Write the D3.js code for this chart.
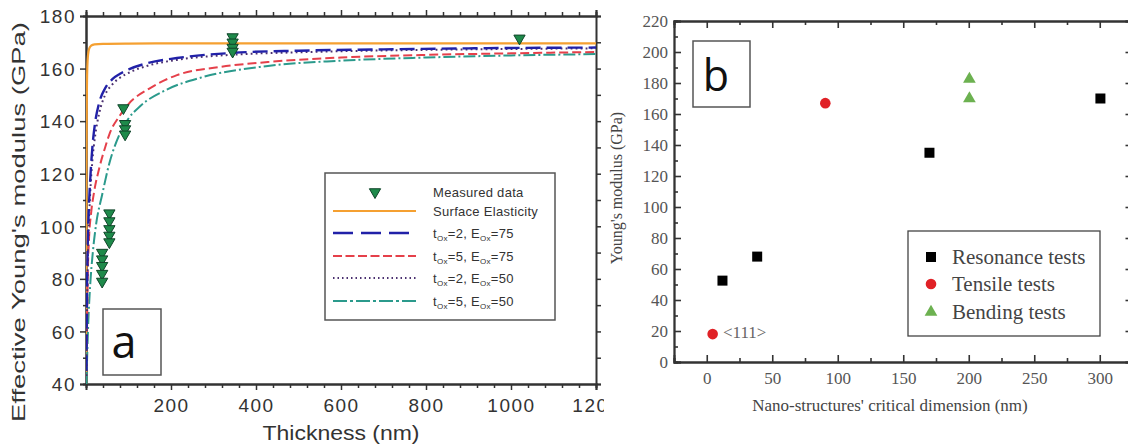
<!DOCTYPE html>
<html><head><meta charset="utf-8">
<script src="https://cdn.jsdelivr.net/npm/d3@7"></script>
<style>html,body{margin:0;padding:0;background:#fff;}svg{display:block;}</style>
</head><body>
<svg id="c" width="1128" height="446"></svg>
<script>
// ---------- Panel a data ----------
const yTicksA = [40, 60, 80, 100, 120, 140, 160, 180];
const xTicksA = [200, 400, 600, 800, 1000, 1200];
const surfT = [0.3, 1, 2, 3, 5, 8, 12, 20, 40, 100, 300, 1200];
const surfV = [40, 120, 150, 160, 165.5, 167.8, 168.7, 169.2, 169.4, 169.5, 169.6, 169.6];
const blueT = [1, 2, 4, 7, 10, 15, 22, 31, 45, 62, 80, 102, 143, 214, 348, 500, 700, 900, 1200];
const blueV = [45, 70, 92, 108, 118, 130, 140, 147, 152.5, 156, 158, 159.8, 162, 164, 166, 166.8, 167.3, 167.7, 168];
const dotT = [1, 2, 4, 7, 10, 15, 22, 31, 45, 62, 80, 102, 143, 214, 348, 500, 700, 900, 1200];
const dotV = [43, 62, 85, 102, 113, 125, 135, 143, 150, 154, 156.5, 158.5, 161, 163.3, 165.3, 166.2, 166.9, 167.3, 167.7];
const redT = [2, 4, 7, 12, 19, 31, 45, 55, 79, 100, 150, 214, 310, 428, 600, 800, 1000, 1200];
const redV = [55, 80, 95, 105, 113, 122, 130, 135, 142, 146.5, 152.5, 157.5, 160.5, 162.5, 164.2, 165.2, 165.8, 166.3];
const tealT = [1, 3, 5, 10, 16, 24, 38, 55, 79, 100, 126, 190, 269, 428, 600, 800, 1000, 1200];
const tealV = [40, 52, 62, 78, 90, 101, 112, 124, 135, 141, 145.5, 152, 156.5, 161, 163, 164.2, 165, 165.5];
const measT = [38, 38, 38, 38, 38, 55, 55, 55, 55, 55, 88, 92, 92, 92, 345, 345, 345, 345, 1020];
const measV = [90, 87.5, 85, 82, 79, 105, 102, 99, 96.5, 94, 145, 139, 137, 135, 172, 170, 168, 166.5, 171.5];

// ---------- Panel b data ----------
const yTicksB = [0, 20, 40, 60, 80, 100, 120, 140, 160, 180, 200, 220];
const xTicksB = [0, 50, 100, 150, 200, 250, 300];
const resX = [12, 38.5, 170, 300.5];
const resY = [52.5, 68, 135, 170];
const tenX = [4.5, 90.5];
const tenY = [18, 167];
const bendX = [200.5, 200.5];
const bendY = [182.5, 170];
const legendB = ["Resonance tests", "Tensile tests", "Bending tests"];

const svg = d3.select("#c");
const axisCol = "#333";
const fmt = d3.format("d");

// ================= PANEL A =================
const xA = d3.scaleLinear().domain([0, 1200]).range([86, 596]);
const yA = d3.scaleLinear().domain([40, 180]).range([384, 16]);
svg.append("defs").append("clipPath").attr("id", "clipA").append("rect")
  .attr("x", 0).attr("y", 0).attr("width", 604).attr("height", 446);
svg.select("defs").append("clipPath").attr("id", "plotA").append("rect")
  .attr("x", 86).attr("y", 16).attr("width", 510).attr("height", 368);
const gA = svg.append("g").attr("clip-path", "url(#clipA)");
const sansF = "'Liberation Sans', Arial, sans-serif";

function styleAxis(g) {
  g.select(".domain").attr("stroke", axisCol).attr("stroke-width", 2);
  g.selectAll(".tick line").attr("stroke", axisCol).attr("stroke-width", 1.5);
}
const minorX = d3.range(40, 1201, 40).filter(v => v % 200 !== 0);
const minorY = d3.range(50, 180, 20);
gA.append("g").attr("transform", "translate(0,384)").call(d3.axisBottom(xA).tickValues(minorX).tickSize(4).tickFormat("")).call(styleAxis);
gA.append("g").attr("transform", "translate(0,16)").call(d3.axisTop(xA).tickValues(minorX).tickSize(4).tickFormat("")).call(styleAxis);
gA.append("g").attr("transform", "translate(86,0)").call(d3.axisLeft(yA).tickValues(minorY).tickSize(3).tickFormat("")).call(styleAxis);
gA.append("g").attr("transform", "translate(596,0)").call(d3.axisRight(yA).tickValues(d3.range(40, 181, 10)).tickSize(5).tickFormat("")).call(styleAxis);
gA.append("g").attr("transform", "translate(0,16)").call(d3.axisTop(xA).tickValues(xTicksA).tickSize(6).tickFormat("")).call(styleAxis);
const axBA = gA.append("g").attr("transform", "translate(0,384)").call(d3.axisBottom(xA).tickValues(xTicksA).tickSize(6).tickPadding(9).tickFormat(fmt)).call(styleAxis);
axBA.selectAll("text").attr("font-family", sansF).attr("font-size", 19).attr("letter-spacing", 1.5).attr("fill", "#333");
const axLA = gA.append("g").attr("transform", "translate(86,0)").call(d3.axisLeft(yA).tickValues(yTicksA).tickSize(6).tickPadding(4).tickFormat(fmt)).call(styleAxis);
axLA.selectAll("text").attr("font-family", sansF).attr("font-size", 19).attr("letter-spacing", 1.5).attr("fill", "#333").attr("dy", "0.36em");

gA.append("text").attr("x", 341).attr("y", 440).attr("text-anchor", "middle")
  .attr("font-family", sansF).attr("font-size", 20).attr("fill", "#333")
  .attr("textLength", 157).attr("lengthAdjust", "spacingAndGlyphs").text("Thickness (nm)");
gA.append("text").attr("transform", "translate(25,222) rotate(-90)").attr("text-anchor", "middle")
  .attr("font-family", sansF).attr("font-size", 18).attr("fill", "#333")
  .attr("textLength", 400).attr("lengthAdjust", "spacingAndGlyphs").text("Effective Young's modulus (GPa)");

const curves = [
  {t: surfT, v: surfV, c: "#f5a031", d: null, w: 2.2},
  {t: tealT, v: tealV, c: "#2b9a8c", d: "12,3,2,3", w: 2},
  {t: redT, v: redV, c: "#e5404a", d: "9,4", w: 2},
  {t: dotT, v: dotV, c: "#4b3070", d: "1.8,3.2", w: 2},
  {t: blueT, v: blueV, c: "#2121a8", d: "15,6", w: 2.4},
];
const plotA = gA.append("g").attr("clip-path", "url(#plotA)");
const lineA = d3.line().x(d => xA(d[0])).y(d => yA(d[1])).curve(d3.curveMonotoneX);
curves.forEach(cv => {
  const pts = cv.t.map((t, i) => [t, cv.v[i]]);
  plotA.append("path").attr("d", lineA(pts)).attr("fill", "none").attr("stroke", cv.c)
    .attr("stroke-width", cv.w).attr("stroke-dasharray", cv.d);
});
const triDown = d3.symbol().type(d3.symbolTriangle).size(55);
gA.append("g").selectAll("path").data(measT.map((t, i) => [t, measV[i]])).join("path")
  .attr("d", triDown).attr("transform", d => `translate(${xA(d[0])},${yA(d[1])}) rotate(180)`)
  .attr("fill", "#1e8a4a").attr("stroke", "#10452a").attr("stroke-width", 1);

const legA = gA.append("g");
legA.append("rect").attr("x", 325).attr("y", 173).attr("width", 230).attr("height", 147)
  .attr("fill", "#fff").attr("stroke", "#555").attr("stroke-width", 1.5);
legA.append("path").attr("d", triDown).attr("transform", "translate(375,192) rotate(180)")
  .attr("fill", "#1e8a4a").attr("stroke", "#10452a");
const legRowsA = [
  {y: 211, c: "#f5a031", d: null, w: 2.2},
  {y: 233, c: "#2121a8", d: "20,8", w: 2.4},
  {y: 256, c: "#e5404a", d: "9,3.5", w: 2},
  {y: 278, c: "#4b3070", d: "1.5,3", w: 1.8},
  {y: 301, c: "#2b9a8c", d: "14,3,3,3", w: 2},
];
legRowsA.forEach(r => {
  legA.append("line").attr("x1", 333).attr("x2", 416).attr("y1", r.y).attr("y2", r.y)
    .attr("stroke", r.c).attr("stroke-width", r.w).attr("stroke-dasharray", r.d);
});
function legText(y, parts) {
  const t = legA.append("text").attr("x", 433).attr("y", y + 4.5).attr("font-family", sansF)
    .attr("font-size", 13).attr("fill", "#333").attr("letter-spacing", 0.3);
  parts.forEach(p => {
    const ts = t.append("tspan").text(p[0]);
    if (p[1] === "sub") ts.attr("font-size", 8).attr("dy", 3);
    if (p[1] === "up") ts.attr("dy", -3);
  });
}
legText(192, [["Measured data"]]);
legText(211, [["Surface Elasticity"]]);
const legParams = [[233, "2", "75"], [256, "5", "75"], [278, "2", "50"], [301, "5", "50"]];
legParams.forEach(p => legText(p[0], [["t"], ["Ox", "sub"], ["=" + p[1] + ", E", "up"], ["Ox", "sub"], ["=" + p[2], "up"]]));

gA.append("rect").attr("x", 103).attr("y", 309).attr("width", 58).attr("height", 66)
  .attr("fill", "#fff").attr("stroke", "#555").attr("stroke-width", 1.5);
gA.append("text").attr("x", 124).attr("y", 358).attr("text-anchor", "middle")
  .attr("font-family", "'Open Sans', 'Noto Sans', sans-serif").attr("font-size", 45).attr("fill", "#111").text("a");

// ================= PANEL B =================
const xB = d3.scaleLinear().domain([-25, 325]).range([674, 1132.5]);
const yB = d3.scaleLinear().domain([0, 220]).range([362, 21]);
const serifF = "'Liberation Serif', 'Times New Roman', serif";
const gB = svg.append("g");
function styleB(g) {
  g.select(".domain").attr("stroke", axisCol).attr("stroke-width", 1.8);
  g.selectAll(".tick line").attr("stroke", axisCol).attr("stroke-width", 1.6);
}
const minorXB = d3.range(-25, 326, 50);
const minorYB = d3.range(10, 220, 20);
gB.append("g").attr("transform", "translate(0,362)").call(d3.axisBottom(xB).tickValues(minorXB).tickSize(-4).tickFormat("")).call(styleB);
gB.append("g").attr("transform", "translate(0,21)").call(d3.axisTop(xB).tickValues(minorXB).tickSize(-4).tickFormat("")).call(styleB);
gB.append("g").attr("transform", "translate(0,21)").call(d3.axisTop(xB).tickValues(xTicksB).tickSize(-7).tickFormat("")).call(styleB);
gB.append("g").attr("transform", "translate(674,0)").call(d3.axisLeft(yB).tickValues(minorYB).tickSize(-4).tickFormat("")).call(styleB);
gB.append("g").attr("transform", "translate(1132.5,0)").call(d3.axisRight(yB).tickValues(minorYB).tickSize(-4).tickFormat("")).call(styleB);
gB.append("g").attr("transform", "translate(1132.5,0)").call(d3.axisRight(yB).tickValues(yTicksB).tickSize(-7).tickFormat("")).call(styleB);
const axBB = gB.append("g").attr("transform", "translate(0,362)").call(d3.axisBottom(xB).tickValues(xTicksB).tickSize(-7).tickPadding(10).tickFormat(fmt)).call(styleB);
axBB.selectAll("text").attr("font-family", serifF).attr("font-size", 17).attr("fill", "#555");
const axLB = gB.append("g").attr("transform", "translate(674,0)").call(d3.axisLeft(yB).tickValues(yTicksB).tickSize(-7).tickPadding(6).tickFormat(fmt)).call(styleB);
axLB.selectAll("text").attr("font-family", serifF).attr("font-size", 17).attr("fill", "#555").attr("dy", "0.33em");

gB.append("text").attr("x", 890).attr("y", 411).attr("text-anchor", "middle")
  .attr("font-family", serifF).attr("font-size", 17).attr("fill", "#444")
  .text("Nano-structures' critical dimension (nm)");
gB.append("text").attr("transform", "translate(622,188) rotate(-90)").attr("text-anchor", "middle")
  .attr("font-family", serifF).attr("font-size", 16).attr("fill", "#444").text("Young's modulus (GPa)");

gB.append("g").selectAll("rect").data(resX.map((x, i) => [x, resY[i]])).join("rect")
  .attr("x", d => xB(d[0]) - 5).attr("y", d => yB(d[1]) - 5).attr("width", 10).attr("height", 10).attr("fill", "#000");
gB.append("g").selectAll("circle").data(tenX.map((x, i) => [x, tenY[i]])).join("circle")
  .attr("cx", d => xB(d[0])).attr("cy", d => yB(d[1])).attr("r", 5.3).attr("fill", "#e02126");
const triUp = d3.symbol().type(d3.symbolTriangle).size(70);
gB.append("g").selectAll("path").data(bendX.map((x, i) => [x, bendY[i]])).join("path")
  .attr("d", triUp).attr("transform", d => `translate(${xB(d[0])},${yB(d[1])})`).attr("fill", "#6cb150");

gB.append("text").attr("x", 723).attr("y", 338).attr("font-family", serifF).attr("font-size", 17)
  .attr("fill", "#666").text("<111>");

const legB = gB.append("g");
legB.append("rect").attr("x", 908).attr("y", 231).attr("width", 192).attr("height", 105)
  .attr("fill", "#fff").attr("stroke", "#444").attr("stroke-width", 1.3);
const legBy = [257, 284, 312];
legB.append("rect").attr("x", 926).attr("y", legBy[0] - 5).attr("width", 10).attr("height", 10).attr("fill", "#000");
legB.append("circle").attr("cx", 931).attr("cy", legBy[1]).attr("r", 5.3).attr("fill", "#e02126");
legB.append("path").attr("d", triUp).attr("transform", `translate(931,${legBy[2]})`).attr("fill", "#6cb150");
legendB.forEach((l, i) => {
  legB.append("text").attr("x", 952).attr("y", legBy[i] + 7).attr("font-family", serifF)
    .attr("font-size", 21).attr("fill", "#444").text(l);
});

gB.append("rect").attr("x", 693).attr("y", 41).attr("width", 57).attr("height", 66)
  .attr("fill", "#fff").attr("stroke", "#555").attr("stroke-width", 1.5);
gB.append("text").attr("x", 716).attr("y", 91).attr("text-anchor", "middle")
  .attr("font-family", "'Open Sans', 'Noto Sans', sans-serif").attr("font-size", 43).attr("fill", "#111").text("b");
</script>
</body></html>
